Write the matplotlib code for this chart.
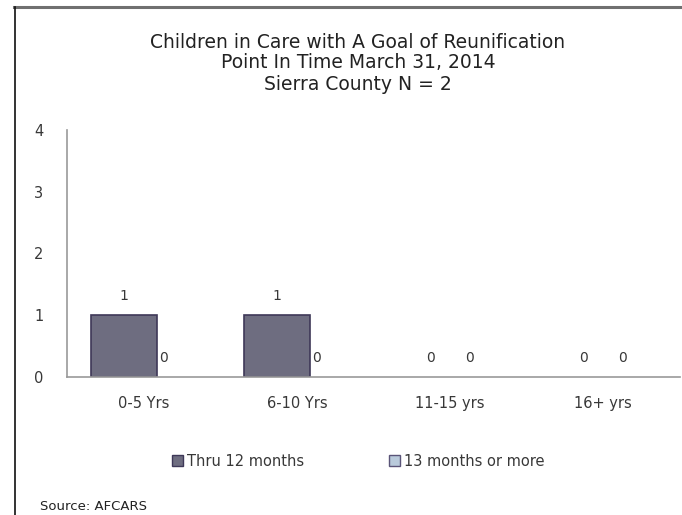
import matplotlib
matplotlib.use("Agg")
import matplotlib.pyplot as plt
from matplotlib.patches import Rectangle
from matplotlib.lines import Line2D
import numpy as np

plt.rcParams['font.family'] = ['DejaVu Sans']

categories = ["0-5 Yrs", "6-10 Yrs", "11-15 yrs", "16+ yrs"]
series_names = ["Thru 12 months", "13 months or more"]
thru12 = [1, 1, 0, 0]
over13 = [0, 0, 0, 0]
y_ticks = [0, 1, 2, 3, 4]
title_lines = ["Children in Care with A Goal of Reunification",
               "Point In Time March 31, 2014",
               "Sierra County N = 2"]
source = "Source: AFCARS"

W, H = 682, 515
fig = plt.figure(figsize=(W / 100, H / 100), dpi=100)

# frame lines (top gray, left black)
fig.add_artist(Line2D([14 / W, 1], [1 - 7 / H, 1 - 7 / H], color="#707070", lw=2.2))
fig.add_artist(Line2D([15 / W, 15 / W], [0, 1 - 7 / H], color="#111111", lw=1.2))

ax = fig.add_axes([67 / W, 1 - 377 / H, (680 - 67) / W, (377 - 130) / H])
x = np.arange(len(categories))
off = 0.128
bw = 0.43
c1, e1 = "#6e6d80", "#3e3858"
c2, e2 = "#b9cadb", "#5a5478"
ax.bar(x - off, thru12, width=bw, color=c1, edgecolor=e1,
       linewidth=[1.2 if v > 0 else 0 for v in thru12])
ax.bar(x + off, over13, width=0.2, color=c2, edgecolor=e2,
       linewidth=[1.2 if v > 0 else 0 for v in over13])

txt = "#383838"
for i in range(len(categories)):
    ax.annotate(str(thru12[i]), (x[i] - off, thru12[i]), xytext=(0, 9),
                textcoords="offset points", ha="center", va="bottom",
                fontsize=10, color=txt)
    ax.annotate(str(over13[i]), (x[i] + off, over13[i]), xytext=(0, 9),
                textcoords="offset points", ha="center", va="bottom",
                fontsize=10, color=txt)

ax.set_xlim(-0.5, len(categories) - 0.5)
ax.set_ylim(0, 4)
ax.set_yticks(y_ticks)
ax.set_xticks(x)
ax.set_xticklabels(categories)
ax.tick_params(axis="both", length=0, labelsize=10.5, colors=txt)
ax.tick_params(axis="y", pad=17)
ax.tick_params(axis="x", pad=14)
for s in ["top", "right"]:
    ax.spines[s].set_visible(False)
ax.spines["left"].set_color("#999999")
ax.spines["bottom"].set_color("#999999")
ax.spines["left"].set_linewidth(1.2)
ax.spines["bottom"].set_linewidth(1.2)

for k, line in enumerate(title_lines):
    fig.text(358 / W, 1 - (42 + 21 * k) / H, line, ha="center", va="center",
             fontsize=13.5, color="#222222")

# legend
handles = [Rectangle((0, 0), 1, 1, facecolor=c1, edgecolor=e1, lw=1),
           Rectangle((0, 0), 1, 1, facecolor=c2, edgecolor=e2, lw=1)]
fig.legend(handles, series_names, loc="center", bbox_to_anchor=(358 / W, 1 - 461 / H),
           ncol=2, frameon=False, fontsize=10.5, handlelength=0.75, handleheight=0.75,
           handletextpad=0.3, columnspacing=5.8, labelcolor=txt)

fig.text(40 / W, 1 - 507 / H, source, ha="left", va="center", fontsize=9.5, color="#222222")

fig.savefig("out.png", dpi=100)
